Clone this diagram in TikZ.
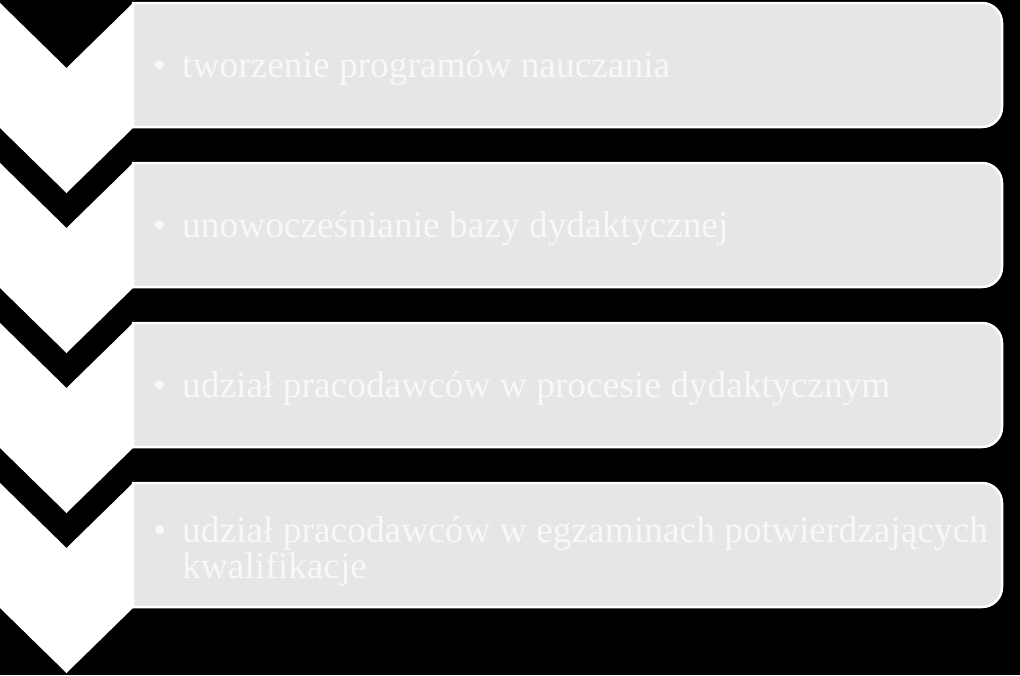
\documentclass[tikz,border=0pt]{standalone}
\usepackage{fontspec}
\setmainfont{Liberation Serif}
\usepackage{tikz}
\usetikzlibrary{positioning}
\definecolor{kastengrau}{RGB}{230,230,230}
\definecolor{schrift}{RGB}{248,248,248}

\begin{document}
\begin{tikzpicture}[x=1pt,y=-1pt,
  pfeil/.style={fill=white},
  kasten/.style={fill=kastengrau,draw=white,line width=2.5pt},
  punkt/.style={anchor=base west,text=schrift,inner sep=0pt,align=left,
    font=\fontsize{37.4}{31}\selectfont}]
\pgfmathsetmacro{\breite}{1020}
\pgfmathsetmacro{\hoehe}{675}
\pgfmathsetmacro{\spitze}{133}
\pgfmathsetmacro{\rechts}{1002}
\useasboundingbox (0,0) rectangle (\breite,\hoehe);
\fill[black] (0,0) rectangle (\breite,\hoehe);
\foreach \i/\zeile/\txt in {0/74/{tworzenie programów nauczania},
  1/74/{unowocześnianie bazy dydaktycznej},
  2/74/{udział pracodawców w procesie dydaktycznym},
  3/95/{udział pracodawców w egzaminach potwierdzających\\\hspace*{29pt}kwalifikacje}}{
  \pgfmathsetmacro{\oben}{3+160*\i}
  \fill[pfeil] (0,\oben) -- ++(\spitze/2,65) -- ++(\spitze/2,-65) -- ++(0,125)
    -- ++(-\spitze/2,65) -- ++(-\spitze/2,-65) -- cycle;
  \draw[kasten] (\spitze,\oben) -- (\rechts-20,\oben)
    arc[start angle=-90,end angle=0,radius=20] -- (\rechts,\oben+104)
    arc[start angle=0,end angle=90,radius=20] -- (\spitze,\oben+124) -- cycle;
  \node[punkt] (text\i) at (153,\oben+\zeile) {\makebox[29pt][l]{•}\txt};
}
\end{tikzpicture}
\end{document}
